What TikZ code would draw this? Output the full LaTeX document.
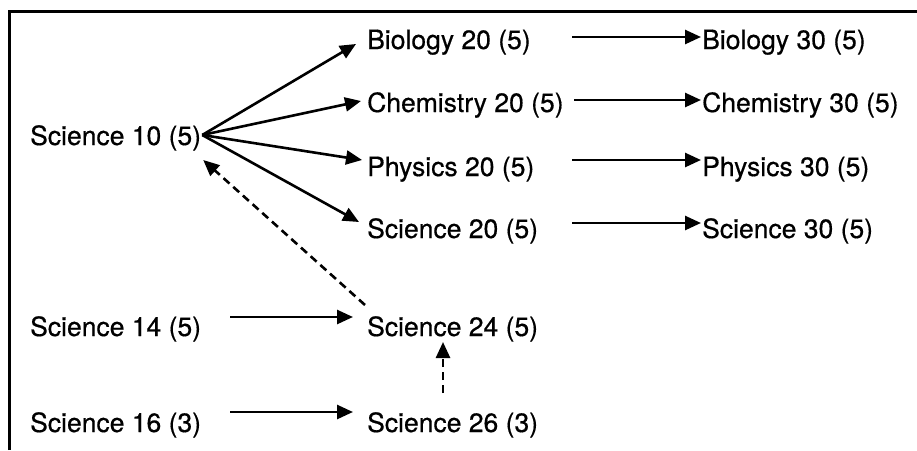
\documentclass[tikz,border=0pt]{standalone}
\usepackage{fontspec}
\setmainfont{TeX Gyre Heros}
\newfontfamily\heavyfont{TeX Gyre Heros}[FakeBold=0.5]
\usetikzlibrary{arrows.meta}
\begin{document}
\begin{tikzpicture}[x=1pt,y=-1pt,
  lbl/.style={anchor=base west, inner sep=0pt, font=\heavyfont\fontsize{26.5}{30}\selectfont},
  arr/.style={line width=2.6pt, -{Triangle[length=16pt,width=14pt]}},
  darr/.style={arr, dash pattern=on 8pt off 5pt}]
\useasboundingbox (0,0) rectangle (917,450);
\draw[line width=3pt] (9,450) -- (9,11) -- (917,11);
% nodes
\node[lbl] (s10) at (30,145) {Science 10 (5)};
\node[lbl] (b20) at (367,49) {Biology 20 (5)};
\node[lbl] (c20) at (367,112) {Chemistry 20 (5)};
\node[lbl] (p20) at (367,176) {Physics 20 (5)};
\node[lbl] (s20) at (367,238) {Science 20 (5)};
\node[lbl] (b30) at (702,49) {Biology 30 (5)};
\node[lbl] (c30) at (702,112) {Chemistry 30 (5)};
\node[lbl] (p30) at (702,176) {Physics 30 (5)};
\node[lbl] (s30) at (702,238) {Science 30 (5)};
\node[lbl] (s14) at (30,336) {Science 14 (5)};
\node[lbl] (s24) at (367,336) {Science 24 (5)};
\node[lbl] (s16) at (30,432) {Science 16 (3)};
\node[lbl] (s26) at (367,432) {Science 26 (3)};
% fan
\coordinate (o) at ([xshift=1pt,yshift=10pt]s10.base east);
\draw[arr] (o) -- ([xshift=-11pt,yshift=5pt]b20.base west);
\draw[arr] (o) -- ([xshift=-6pt,yshift=11pt]c20.base west);
\draw[arr] (o) -- ([xshift=-5pt,yshift=16pt]p20.base west);
\draw[arr] (o) -- ([xshift=-8pt,yshift=16pt]s20.base west);
% 20 -> 30
\draw[arr] ([xshift=205pt,yshift=12pt]b20.base west) -- ([xshift=-1pt,yshift=12pt]b30.base west);
\draw[arr] ([xshift=207pt,yshift=12pt]c20.base west) -- ([xshift=-1pt,yshift=12pt]c30.base west);
\draw[arr] ([xshift=205pt,yshift=16pt]p20.base west) -- ([xshift=-1pt,yshift=16pt]p30.base west);
\draw[arr] ([xshift=205pt,yshift=15pt]s20.base west) -- ([xshift=-1pt,yshift=15pt]s30.base west);
% lower
\draw[arr] ([xshift=200pt,yshift=19pt]s14.base west) -- ([xshift=-14pt,yshift=19pt]s24.base west);
\draw[arr] ([xshift=200pt,yshift=20pt]s16.base west) -- ([xshift=-14pt,yshift=20pt]s26.base west);
% dashed
\draw[darr] ([xshift=-2pt,yshift=31pt]s24.base west) -- ([xshift=2pt,yshift=-15pt]s10.base east);
\draw[darr] ([xshift=76pt,yshift=39pt]s26.base west) -- ([xshift=76pt,yshift=-6pt]s24.base west);
\end{tikzpicture}
\end{document}
